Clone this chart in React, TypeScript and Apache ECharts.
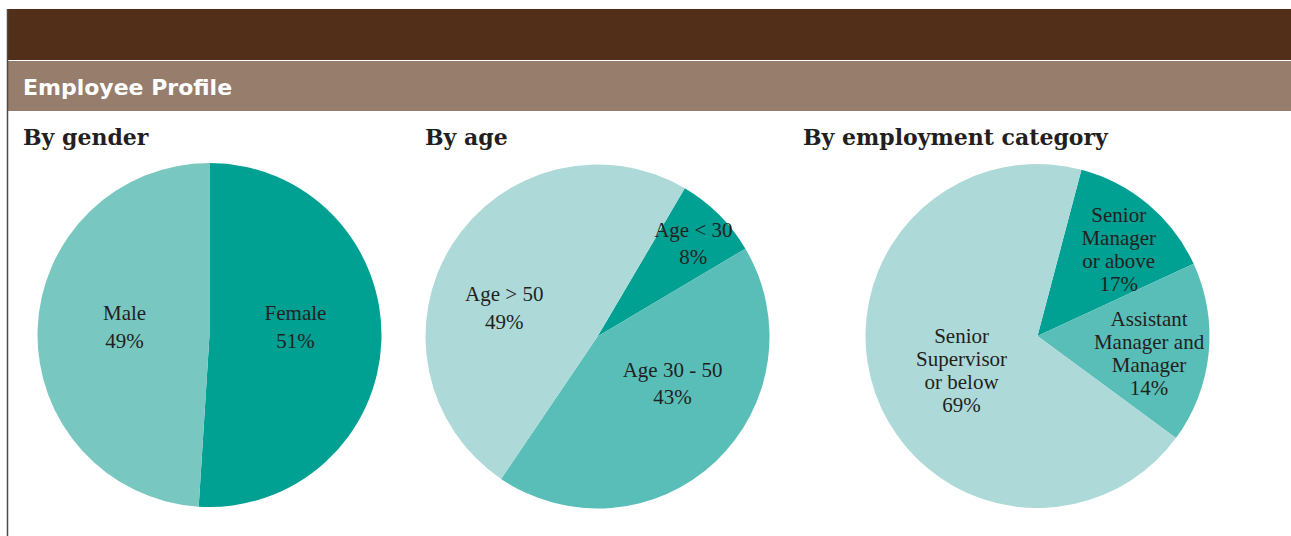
import React, { useEffect, useRef } from "react";
import * as echarts from "echarts";

// ---- data ----
const genderNames = ["Female", "Male"];
const genderValues = [51, 49];
const genderPrinted = ["51%", "49%"];

const ageNames = ["Age < 30", "Age 30 - 50", "Age > 50"];
const ageValues = [8, 43, 49];
const agePrinted = ["8%", "43%", "49%"];

const employmentNames = [
  "Senior\nManager\nor above",
  "Assistant\nManager and\nManager",
  "Senior\nSupervisor\nor below",
];
// slice sizes as drawn in the reference
const employmentValues = [14, 17, 69];
// percentages as printed in the reference
const employmentPrinted = ["17%", "14%", "69%"];

const panelTitles = ["By gender", "By age", "By employment category"];
const headerTitle = "Employee Profile";

// ---- styling / layout ----
const genderColors = ["#00A093", "#78C7C0"];
const ageColors = ["#00A093", "#58BEB7", "#ADDAD9"];
const employmentColors = ["#00A093", "#58BEB7", "#ADDAD9"];

const genderLabelShift = [[-3, -11], [4, -5]];
const ageLabelShift = [[33, -30], [14, -18], [-18, 19]];
const employmentLabelShift = [[24, -18], [23, 9], [8, 5]];

const LABEL_FONT = "'Liberation Serif', 'Times New Roman', serif";

function makePie(
  names: string[],
  values: number[],
  printed: string[],
  colors: string[],
  shift: number[][],
  center: [number, number],
  startAngle: number,
  lineHeight: number
) {
  return {
    type: "pie",
    center,
    radius: 172,
    startAngle,
    clockwise: true,
    silent: true,
    data: names.map((n, i) => ({
      name: n,
      value: values[i],
      itemStyle: { color: colors[i] },
    })),
    label: {
      show: true,
      position: "inside",
      formatter: (p: any) => `${p.name}\n${printed[p.dataIndex]}`,
      fontFamily: LABEL_FONT,
      fontSize: 21,
      lineHeight,
      color: "#231F20",
      align: "center",
    },
    labelLine: { show: false },
    labelLayout: (p: any) => ({
      dx: shift[p.dataIndex][0],
      dy: shift[p.dataIndex][1],
    }),
    emphasis: { disabled: true },
  };
}

export default function App() {
  const ref = useRef<HTMLDivElement>(null);

  useEffect(() => {
    if (!ref.current) return;
    const chart = echarts.init(ref.current, null, { renderer: "svg" });
    const titleXs = [23, 425, 803];
    chart.setOption({
      animation: false,
      backgroundColor: "#ffffff",
      graphic: [
        {
          type: "rect",
          shape: { x: 8, y: 9, width: 1283, height: 51 },
          style: { fill: "#522F19" },
        },
        {
          type: "rect",
          shape: { x: 8, y: 61, width: 1283, height: 50 },
          style: { fill: "#977D6B" },
        },
        {
          type: "line",
          shape: { x1: 7.5, y1: 9, x2: 7.5, y2: 536 },
          style: { stroke: "#4a4a4a", lineWidth: 1.5 },
        },
        {
          type: "text",
          x: 23,
          y: 87,
          style: {
            text: headerTitle,
            fill: "#ffffff",
            font: "bold 22px 'DejaVu Sans', sans-serif",
            verticalAlign: "middle",
          },
        },
        ...panelTitles.map((t, i) => ({
          type: "text",
          x: titleXs[i],
          y: 137,
          style: {
            text: t,
            fill: "#231F20",
            font: "bold 22px 'DejaVu Serif', serif",
            verticalAlign: "middle",
          },
        })),
      ],
      series: [
        makePie(genderNames, genderValues, genderPrinted, genderColors, genderLabelShift, [209.5, 335], 90, 27.5),
        makePie(ageNames, ageValues, agePrinted, ageColors, ageLabelShift, [597.5, 336.5], 59.5, 27.5),
        makePie(employmentNames, employmentValues, employmentPrinted, employmentColors, employmentLabelShift, [1037.5, 336], 75.2, 23),
      ],
    });
    return () => chart.dispose();
  }, []);

  return (
    <div
      ref={ref}
      style={{ position: "fixed", left: 0, top: 0, width: 1291, height: 536 }}
    />
  );
}
